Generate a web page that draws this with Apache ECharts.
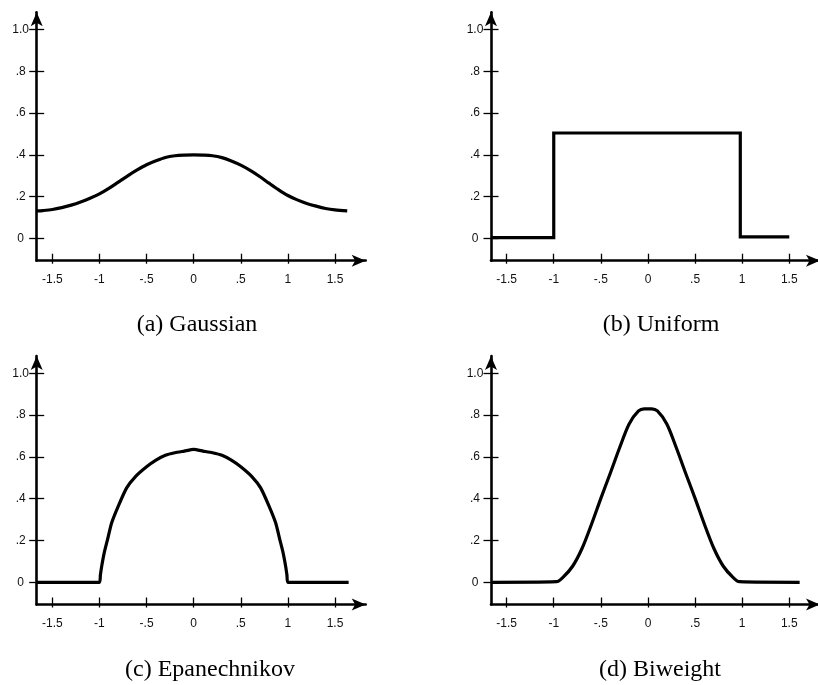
<!DOCTYPE html>
<html>
<head>
<meta charset="utf-8">
<script src="https://cdn.jsdelivr.net/npm/echarts@6/dist/echarts.min.js"></script>
<style>
  html, body { margin: 0; padding: 0; background: #fff; }
  #chart { width: 818px; height: 685px; }
</style>
</head>
<body>
<div id="chart"></div>
<script>
// Tick positions and their printed labels
const xTicks = [-1.5, -1, -0.5, 0, 0.5, 1, 1.5];
const xTickLabels = ['-1.5', '-1', '-.5', '0', '.5', '1', '1.5'];
const yTicks = [0, 0.2, 0.4, 0.6, 0.8, 1.0];
const yTickLabels = ['0', '.2', '.4', '.6', '.8', '1.0'];

// (a) Gaussian kernel
const gaussX = [-1.666, -1.6, -1.5, -1.4, -1.3, -1.2, -1.1, -1.0, -0.9, -0.8, -0.7, -0.6, -0.5, -0.4, -0.3, -0.2, -0.1, 0,
                0.1, 0.2, 0.3, 0.4, 0.5, 0.6, 0.7, 0.8, 0.9, 1.0, 1.1, 1.2, 1.3, 1.4, 1.5, 1.63];
const gaussY = [0.132, 0.134, 0.139, 0.148, 0.16, 0.175, 0.193, 0.214, 0.24, 0.27, 0.3, 0.328, 0.353, 0.372, 0.388, 0.396, 0.399, 0.4,
                0.399, 0.396, 0.387, 0.371, 0.351, 0.326, 0.297, 0.265, 0.234, 0.206, 0.185, 0.168, 0.155, 0.144, 0.137, 0.132];

// (b) Uniform kernel
const unifX = [-1.666, -1.0, -1.0, 0.98, 0.98, 1.5];
const unifY = [0.004, 0.004, 0.505, 0.505, 0.008, 0.008];

// (c) Epanechnikov kernel
const epanX = [-1.666, -1.0, -0.99, -0.977, -0.95, -0.917, -0.87, -0.8, -0.711, -0.62, -0.5, -0.4, -0.3, -0.2, -0.1, 0,
               0.1, 0.2, 0.3, 0.4, 0.5, 0.62, 0.711, 0.8, 0.87, 0.917, 0.95, 0.977, 0.99, 1.0, 1.645];
const epanY = [0, 0, 0.035, 0.075, 0.14, 0.2, 0.285, 0.365, 0.452, 0.505, 0.553, 0.585, 0.608, 0.62, 0.628, 0.636,
               0.628, 0.62, 0.608, 0.585, 0.553, 0.505, 0.452, 0.365, 0.285, 0.2, 0.14, 0.075, 0.035, 0, 0];

// (d) Biweight kernel
const biwX = [-1.666, -0.97, -0.9, -0.8, -0.7, -0.6, -0.5, -0.4, -0.3, -0.2, -0.1, -0.04,
              0.04, 0.1, 0.2, 0.3, 0.4, 0.5, 0.6, 0.7, 0.8, 0.9, 0.97, 1.61];
const biwY = [0, 0.003, 0.025, 0.077, 0.162, 0.277, 0.402, 0.522, 0.645, 0.758, 0.82, 0.83,
              0.83, 0.82, 0.758, 0.645, 0.522, 0.402, 0.277, 0.162, 0.077, 0.025, 0.003, 0];

const X_MIN = -1.666, X_MAX = 1.826;
const Y_MIN = -0.106, Y_MAX = 1.083;

function labelFor(ticks, labels) {
  return function (v) {
    for (let i = 0; i < ticks.length; i++) {
      if (Math.abs(ticks[i] - v) < 1e-9) return labels[i];
    }
    return '';
  };
}

const panels = [
  { xs: gaussX, ys: gaussY, smooth: 0.3, left: 36.7, top: 12.2, caption: '(a) Gaussian', cx: 197, cy: 325 },
  { xs: unifX, ys: unifY, smooth: false, left: 491, top: 12.2, caption: '(b) Uniform', cx: 661, cy: 325 },
  { xs: epanX, ys: epanY, smooth: 0.2, left: 36.7, top: 356, caption: '(c) Epanechnikov', cx: 210, cy: 670 },
  { xs: biwX, ys: biwY, smooth: 0.3, left: 491, top: 356, caption: '(d) Biweight', cx: 660, cy: 670 }
];

const ink = '#000';
const labelFont = { fontFamily: 'Liberation Sans', fontSize: 12, color: '#111' };
const grids = [], xAxes = [], yAxes = [], series = [], graphics = [];

panels.forEach(function (p, i) {
  grids.push({ left: p.left, top: p.top, width: 329, height: 248.5, outerBoundsMode: 'none' });

  // main x axis: line with arrow, ticks rising into the plot, labels
  xAxes.push({
    type: 'value', gridIndex: i, min: X_MIN, max: X_MAX, position: 'bottom',
    axisLine: { show: true, onZero: false, symbol: ['none', 'arrow'], symbolSize: [9, 14],
                lineStyle: { color: ink, width: 2.6 } },
    axisTick: { show: true, inside: true, length: 7, customValues: xTicks,
                lineStyle: { color: ink, width: 1.3 } },
    axisLabel: Object.assign({ show: true, customValues: xTicks, formatter: labelFor(xTicks, xTickLabels),
                               margin: 13 }, labelFont),
    splitLine: { show: false }
  });
  // short stubs of the x ticks below the line
  xAxes.push({
    type: 'value', gridIndex: i, min: X_MIN, max: X_MAX, position: 'bottom',
    axisLine: { show: false, onZero: false },
    axisTick: { show: true, inside: false, length: 3, customValues: xTicks,
                lineStyle: { color: ink, width: 1.3 } },
    axisLabel: { show: false },
    splitLine: { show: false }
  });

  // main y axis: line with arrow, ticks to the left, centred labels
  yAxes.push({
    type: 'value', gridIndex: i, min: Y_MIN, max: Y_MAX, position: 'left',
    axisLine: { show: true, onZero: false, symbol: ['none', 'arrow'], symbolSize: [9, 14],
                lineStyle: { color: ink, width: 2.6 } },
    axisTick: { show: true, inside: false, length: 7.5, customValues: yTicks,
                lineStyle: { color: ink, width: 1.3 } },
    axisLabel: Object.assign({ show: true, customValues: yTicks, formatter: labelFor(yTicks, yTickLabels),
                               margin: 16, align: 'center' }, labelFont),
    splitLine: { show: false }
  });
  // y ticks continue across the line into the plot
  yAxes.push({
    type: 'value', gridIndex: i, min: Y_MIN, max: Y_MAX, position: 'left',
    axisLine: { show: false, onZero: false },
    axisTick: { show: true, inside: true, length: 7.5, customValues: yTicks,
                lineStyle: { color: ink, width: 1.3 } },
    axisLabel: { show: false },
    splitLine: { show: false }
  });

  series.push({
    type: 'line', xAxisIndex: 2 * i, yAxisIndex: 2 * i,
    data: p.xs.map(function (v, k) { return [v, p.ys[k]]; }),
    smooth: p.smooth,
    showSymbol: false, symbol: 'none',
    lineStyle: { color: ink, width: 3.2, join: 'miter', cap: 'butt' },
    silent: true
  });

  graphics.push({
    type: 'text', x: p.cx, y: p.cy,
    style: { text: p.caption, fill: ink, align: 'center', verticalAlign: 'middle',
             font: '24px "Liberation Serif", "Times New Roman", serif' }
  });
});

const chart = echarts.init(document.getElementById('chart'), null, { renderer: 'canvas' });
chart.setOption({
  animation: false,
  backgroundColor: '#fff',
  grid: grids,
  xAxis: xAxes,
  yAxis: yAxes,
  series: series,
  graphic: graphics
});
</script>
</body>
</html>
